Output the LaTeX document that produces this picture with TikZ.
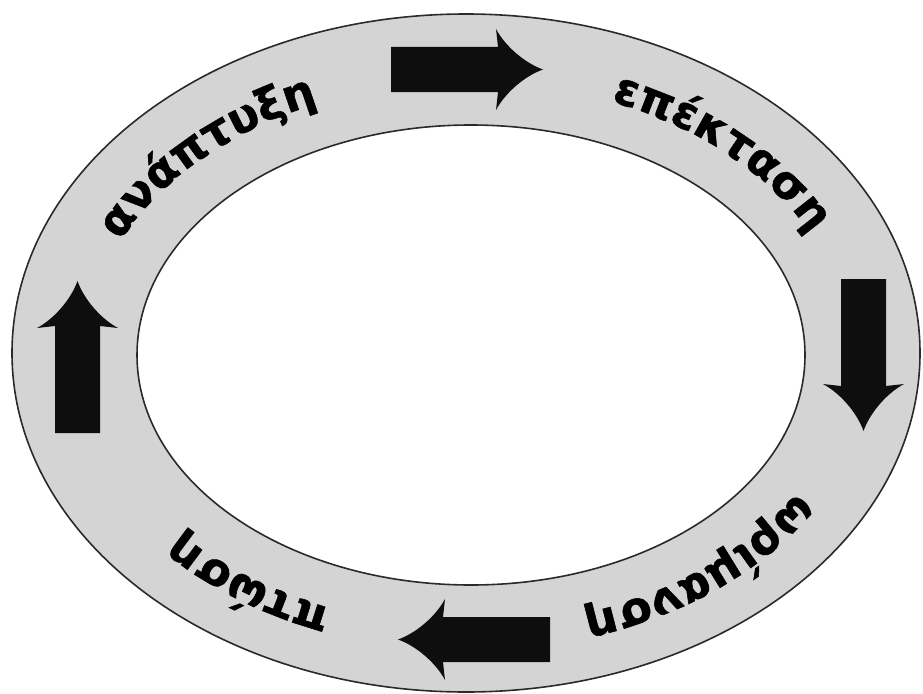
\documentclass[tikz,border=0pt]{standalone}
\usepackage{fontspec}
\setmainfont{DejaVu Sans}
\newfontfamily\heavyfont[FakeBold=1.2]{DejaVu Sans Bold}
\usetikzlibrary{decorations.text}
\definecolor{ringgray}{HTML}{D4D4D4}
\definecolor{ringline}{HTML}{2A2A2A}
\definecolor{arrowfill}{HTML}{0E0E0E}
\newcommand\wordfont{\heavyfont\fontsize{45}{45}\selectfont}
\tikzset{
  ringedge/.style={draw=ringline, line width=1.6pt},
  wordpath/.style={decorate, decoration={text along path, text align=left, text={|\wordfont|#1}}},
  blockarr/.pic={
    \fill[arrowfill] (0,-22.5) -- (107,-22.5) -- (105,-40.5)
      .. controls (115,-22) and (135,-6) .. (152,0)
      .. controls (135,6) and (115,22) .. (105,40.5)
      -- (107,22.5) -- (0,22.5) -- cycle;
  }
}
\begin{document}
\begin{tikzpicture}[x=1pt,y=1pt]
\useasboundingbox (0,0) rectangle (923,-693);
\fill[white] (0,0) rectangle (923,-693);
% ring
\fill[ringgray, even odd rule] (466,-353) ellipse[x radius=454, y radius=339]
  (471,-355) ellipse[x radius=334, y radius=230];
\draw[ringedge] (466,-353) ellipse[x radius=454, y radius=339];
\draw[ringedge] (471,-355) ellipse[x radius=334, y radius=230];
% words along the ring (clockwise)
\begin{scope}[shift={(468,-354)}]
\path[wordpath=ανάπτυξη] ({382*cos(155.5)},{272.5*sin(155.5)}) arc[start angle=155.5, end angle=75.5, x radius=382, y radius=272.5];
\path[wordpath=επέκταση] ({382*cos(68)},{272.5*sin(68)}) arc[start angle=68, end angle=-12, x radius=382, y radius=272.5];
\path[wordpath=ωρίμανση] ({382*cos(-30.5)},{272.5*sin(-30.5)}) arc[start angle=-30.5, end angle=-110.5, x radius=382, y radius=272.5];
\path[wordpath=πτώση] ({382*cos(-111)},{272.5*sin(-111)}) arc[start angle=-111, end angle=-181, x radius=382, y radius=272.5];
\end{scope}
% arrows
\pic at (391,-69.5) {blockarr};
\pic[rotate=-90] at (863.5,-279) {blockarr};
\pic[rotate=180] at (550,-639.5) {blockarr};
\pic[rotate=90] at (77.5,-433) {blockarr};
\end{tikzpicture}
\end{document}
